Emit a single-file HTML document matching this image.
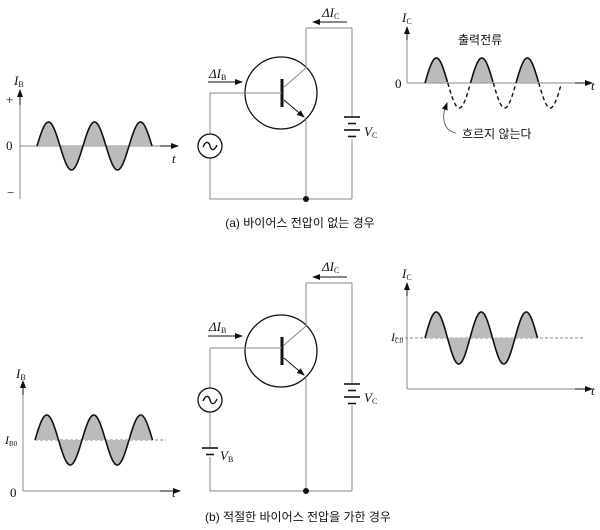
<!DOCTYPE html>
<html><head><meta charset="utf-8"><style>
html,body{margin:0;padding:0;background:#fff;}
svg{display:block;}
text{font-family:"Liberation Serif",serif;fill:#111;}
.k{font-family:"Liberation Sans","Noto Sans CJK KR",sans-serif;font-size:12px;}
</style></head><body>
<svg id="s" width="600" height="530" viewBox="0 0 600 530" xmlns="http://www.w3.org/2000/svg">
<defs>
<marker id="ar" markerWidth="8" markerHeight="6" refX="7" refY="3" orient="auto" markerUnits="userSpaceOnUse"><path d="M0,0 L8,3 L0,6 z" fill="#111"/></marker>
</defs>
<g id="g" stroke="#111" fill="none" stroke-width="1"></g>
<!-- texts (a) -->
<text x="14" y="85" font-style="italic" font-size="13">I<tspan font-size="8" font-style="normal" dy="2">B</tspan></text>
<text x="6" y="104" font-size="13">+</text>
<text x="6" y="150" font-size="13">0</text>
<text x="7" y="197" font-size="13">−</text>
<text x="172" y="163" font-style="italic" font-size="13">t</text>
<text x="209" y="78" font-style="italic" font-size="13">ΔI<tspan font-size="8" font-style="normal" dy="2">B</tspan></text>
<text x="322" y="17" font-style="italic" font-size="13">ΔI<tspan font-size="8" font-style="normal" dy="2">C</tspan></text>
<text x="364" y="136" font-style="italic" font-size="13">V<tspan font-size="8" font-style="normal" dy="2">C</tspan></text>
<text x="402" y="22" font-style="italic" font-size="13">I<tspan font-size="8" font-style="normal" dy="2">C</tspan></text>
<text x="395" y="88" font-size="13">0</text>
<text x="591" y="90" font-style="italic" font-size="13">t</text>
<text class="k" x="458" y="44">출력전류</text>
<text class="k" x="462" y="138">흐르지 않는다</text>
<text class="k" x="300" y="227" text-anchor="middle">(a) 바이어스 전압이 없는 경우</text>
<!-- texts (b) -->
<text x="16" y="378" font-style="italic" font-size="13">I<tspan font-size="8" font-style="normal" dy="2">B</tspan></text>
<text x="5" y="444" font-style="italic" font-size="12">I<tspan font-size="7" font-style="normal" dy="2">B0</tspan></text>
<text x="10" y="497" font-size="13">0</text>
<text x="172" y="497" font-style="italic" font-size="13">t</text>
<text x="209" y="331" font-style="italic" font-size="13">ΔI<tspan font-size="8" font-style="normal" dy="2">B</tspan></text>
<text x="322" y="271" font-style="italic" font-size="13">ΔI<tspan font-size="8" font-style="normal" dy="2">C</tspan></text>
<text x="364" y="402" font-style="italic" font-size="13">V<tspan font-size="8" font-style="normal" dy="2">C</tspan></text>
<text x="220" y="460" font-style="italic" font-size="13">V<tspan font-size="8" font-style="normal" dy="2">B</tspan></text>
<text x="402" y="278" font-style="italic" font-size="13">I<tspan font-size="8" font-style="normal" dy="2">C</tspan></text>
<text x="391" y="341" font-style="italic" font-size="12">I<tspan font-size="7" font-style="normal" dy="2">C0</tspan></text>
<text x="591" y="395" font-style="italic" font-size="13">t</text>
<text class="k" x="298" y="521" text-anchor="middle">(b) 적절한 바이어스 전압을 가한 경우</text>
</svg>
<script>
var g=document.getElementById('g'),h='';
function L(x1,y1,x2,y2,extra){h+='<line x1="'+x1+'" y1="'+y1+'" x2="'+x2+'" y2="'+y2+'" '+(extra||'')+'/>';}
function A(x1,y1,x2,y2){L(x1,y1,x2,y2,'marker-end="url(#ar)"');}
function pathOf(p){return 'M'+p.map(function(q){return q[0].toFixed(1)+','+q[1].toFixed(1)}).join(' L');}
function sineFilled(x0,P,A_,b,n,posOnly){
  for(var k=0;k<n;k++){
    var a=x0+k*P/2,e=a+P/2,p=[];
    for(var x=a;x<=e+0.01;x+=0.5)p.push([x,b-A_*Math.sin(2*Math.PI*(x-x0)/P)]);
    var d=pathOf(p);
    if(!posOnly||k%2==0){
      h+='<path d="'+d+' Z" fill="#bbb" stroke="none"/>';
      h+='<path d="'+d+'" stroke-width="1.6"/>';
    } else h+='<path d="'+d+'" stroke-width="1.4" stroke-dasharray="4,3"/>';
  }
}
function transistor(cy,by,top,bot){
  h+='<circle cx="281" cy="'+cy+'" r="36" stroke-width="1.3"/>';
  L(282,cy-14,282,cy+14,'stroke-width="3"');
  L(210,by,282,by,'stroke="#888"');
  L(283,cy-5,306,cy-25,'stroke="#888"');
  L(306,cy-25,306,top,'stroke="#888"');
  A(284,cy+7,304,cy+24);
  L(306,cy+26,306,bot,'stroke="#888"');
}
function ac(cx,cy){h+='<circle cx="'+cx+'" cy="'+cy+'" r="12" fill="#fff" stroke-width="1.3"/>';
 h+='<path d="M'+(cx-7)+','+(cy+1)+' C'+(cx-4)+','+(cy-6)+' '+(cx-1)+','+(cy-4)+' '+cx+','+cy+' C'+(cx+1)+','+(cy+4)+' '+(cx+4)+','+(cy+6)+' '+(cx+7)+','+(cy-1)+'" stroke-width="1.4"/>';}
function batt(x,y1,n){
  h+='<rect x="'+(x-10)+'" y="'+(y1-1)+'" width="20" height="'+(n*6.5-3)+'" fill="#fff" stroke="none"/>';
  for(var i=0;i<n;i++){var w=i%2==0?8:4;L(x-w,y1+i*6.5,x+w,y1+i*6.5,'stroke-width="1.6"');}
}
// ===== (a)
L(20,199,20,93,'stroke="#888"');A(20,105,20,90);
L(20,146,176,146,'stroke="#888"');A(160,146,178,146);
sineFilled(37,46,24,146,5,false);
L(306,28,352,28,'stroke="#888"');L(352,28,352,199,'stroke="#888"');L(210,199,352,199,'stroke="#888"');
L(210,93,210,199,'stroke="#888"');
transistor(93,93,28,199);
ac(210,146);batt(352,117,4);
h+='<circle cx="306" cy="199" r="3" fill="#111" stroke="none"/>';
A(347,22,313,22);A(208,82,242,82);
L(407,83,407,30,'stroke="#888"');A(407,40,407,27);
L(407,83,588,83,'stroke="#888"');A(575,83,592,83);
sineFilled(425,45.5,25,83,6,true);
h+='<path d="M456,133 C444,131 441,118 446,106" stroke="#666"/>';A(445,109,447,103);
// ===== (b)
L(23,491,23,384,'stroke="#888"');A(23,395,23,381);
L(23,491,176,491,'stroke="#888"');A(160,491,180,491);
L(35,440,166,440,'stroke="#888" stroke-dasharray="3,2"');
sineFilled(35,47,25,440,5,false);
L(306,283,352,283,'stroke="#888"');L(352,283,352,491,'stroke="#888"');L(210,491,352,491,'stroke="#888"');
L(210,348,210,491,'stroke="#888"');
transistor(351,348,283,491);
ac(210,400);batt(210,448,2);batt(352,384,4);
h+='<circle cx="306" cy="491" r="3" fill="#111" stroke="none"/>';
A(347,277,313,277);A(208,336,242,336);
L(407,389,407,286,'stroke="#888"');A(407,296,407,283);
L(407,389,588,389,'stroke="#888"');A(575,389,592,389);
L(395,338,583,338,'stroke="#888" stroke-dasharray="3,2"');
sineFilled(425,45,26,338,5,false);
g.innerHTML=h;
</script>
</body></html>
